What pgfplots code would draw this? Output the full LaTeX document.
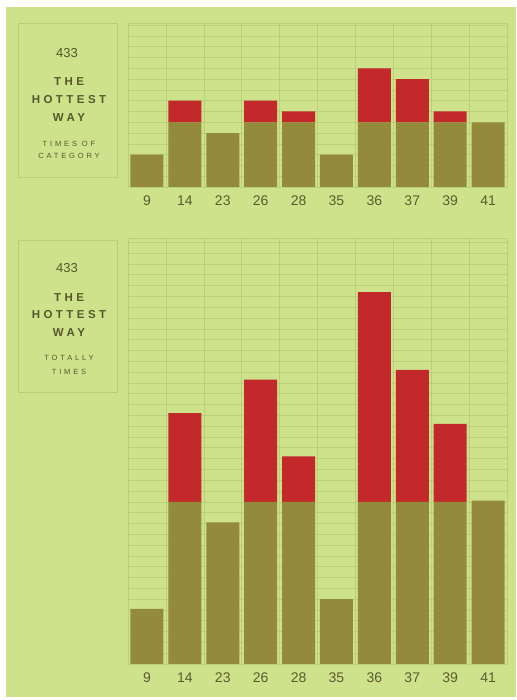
\documentclass[border=0pt]{standalone}
\usepackage{pgfplots}
\pgfplotsset{compat=1.18}
\usepackage{fontspec}
\setmainfont{Liberation Sans}
\newfontfamily\widefont{Liberation Sans}[LetterSpace=30]
\newfontfamily\smallwide{Liberation Sans}[LetterSpace=38]
\definecolor{bg}{HTML}{CEE28C}
\definecolor{gridc}{HTML}{BACF7A}
\definecolor{olive}{HTML}{948A3C}
\definecolor{barred}{HTML}{C3292A}
\definecolor{txt}{HTML}{56572A}
\definecolor{tickc}{HTML}{5C5B2C}
\pgfplotsset{hot/.style={
  scale only axis, width=379pt, anchor=south west,
  ybar stacked, bar width=33pt,
  xmin=-0.5, xmax=9.5, ymin=0,
  xtick={0,...,9}, xticklabels={9,14,23,26,28,35,36,37,39,41},
  minor xtick={-0.5,0.5,...,9.5},
  xminorgrids, ymajorgrids, yticklabels={},
  major tick length=0pt, minor tick length=0pt,
  grid style={gridc, line width=0.6pt},
  minor grid style={gridc, line width=0.6pt},
  axis line style={gridc, line width=0.6pt},
  tick label style={font=\fontsize{14}{14}\selectfont, text=tickc},
  /pgf/number format/assume math mode=true,
  xticklabel style={yshift=-5pt},
  ytick style={draw=none}, xtick style={draw=none},
}}
\begin{document}
\begin{tikzpicture}[x=1pt,y=1pt]
\path[use as bounding box] (0,0) rectangle (516,700);
\fill[white] (0,0) rectangle (516,700);
\fill[bg] (6,3) rectangle (516,693);

% top panel
\draw[gridc, line width=0.8pt] (18,523) rectangle (117,677);
\node[txt, font=\fontsize{13}{13}\selectfont] at (67,647) {433};
\node[txt, align=center, font=\fontsize{11.5}{18}\selectfont\widefont\bfseries] at (69,600) {THE\\HOTTEST\\WAY};
\node[txt, align=center, font=\fontsize{7.5}{12}\selectfont\smallwide] at (69,550) {TIMES OF\\CATEGORY};

\begin{axis}[hot, at={(128pt,513pt)}, height=164pt, ymax=15.2, ytick={0,...,15}]
\addplot[fill=olive, draw=none] coordinates {(0,3)(1,6)(2,5)(3,6)(4,6)(5,3)(6,6)(7,6)(8,6)(9,6)};
\addplot[fill=barred, draw=none] coordinates {(0,0)(1,2)(2,0)(3,2)(4,1)(5,0)(6,5)(7,4)(8,1)(9,0)};
\end{axis}

% bottom panel
\draw[gridc, line width=0.8pt] (18,308) rectangle (117,460);
\node[txt, font=\fontsize{13}{13}\selectfont] at (67,432) {433};
\node[txt, align=center, font=\fontsize{11.5}{17.5}\selectfont\widefont\bfseries] at (69,385) {THE\\HOTTEST\\WAY};
\node[txt, align=center, font=\fontsize{7.5}{14}\selectfont\smallwide] at (69,335) {TOTALLY\\TIMES};

\begin{axis}[hot, at={(128pt,36pt)}, height=426pt, ymax=39.4, ytick={0,...,39}]
\addplot[fill=olive, draw=none] coordinates {(0,5.1)(1,15)(2,13.1)(3,15)(4,15)(5,6)(6,15)(7,15)(8,15)(9,15.1)};
\addplot[fill=barred, draw=none] coordinates {(0,0)(1,8.2)(2,0)(3,11.3)(4,4.2)(5,0)(6,19.4)(7,12.2)(8,7.2)(9,0)};
\end{axis}
\end{tikzpicture}
\end{document}
